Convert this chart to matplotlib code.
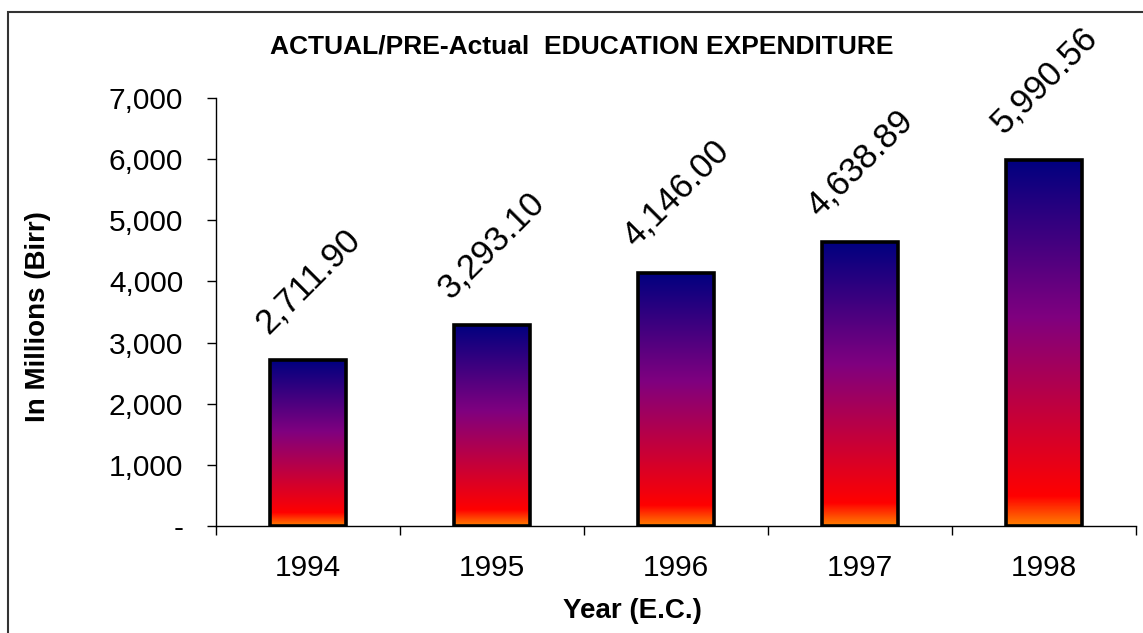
import numpy as np
import matplotlib
matplotlib.use("Agg")
import matplotlib.pyplot as plt
from matplotlib.colors import LinearSegmentedColormap
from matplotlib.patches import Rectangle
from matplotlib.ticker import FuncFormatter, FixedLocator

years = ["1994", "1995", "1996", "1997", "1998"]
values = [2711.90, 3293.10, 4146.00, 4638.89, 5990.56]
value_labels = ["2,711.90", "3,293.10", "4,146.00", "4,638.89", "5,990.56"]
yticks = [0, 1000, 2000, 3000, 4000, 5000, 6000, 7000]
title = "ACTUAL/PRE-Actual  EDUCATION EXPENDITURE"
ylabel = "In Millions (Birr)"
xlabel = "Year (E.C.)"

plt.rcParams['font.family'] = ['Liberation Sans', 'DejaVu Sans']

fig = plt.figure(figsize=(11.43, 6.33), dpi=100)
ax = fig.add_axes([216/1143, 1-526/633, (1136-216)/1143, (526-98)/633])

# colormap: bottom orange -> red -> purple -> navy top
cmap = LinearSegmentedColormap.from_list(
    "grad",
    [(0.0, (1.0, 0.5, 0.0)),
     (0.08, (1.0, 0.0, 0.0)),
     (0.57, (0.5, 0.0, 0.5)),
     (1.0, (0.0, 0.0, 0.5))])

grad = np.linspace(0, 1, 256).reshape(-1, 1)
width = 0.41
x = np.arange(len(years))
for xi, v in zip(x, values):
    ax.imshow(grad, extent=[xi - width/2, xi + width/2, 0, v], origin='lower',
              aspect='auto', cmap=cmap, zorder=2)
bars = ax.bar(x, values, width=width, facecolor='none', edgecolor='black',
              linewidth=2.6, zorder=3)

for xi, v, lab in zip(x, values, value_labels):
    ax.annotate(lab, xy=(xi, v), xytext=(0, 57), textcoords='offset points',
                ha='center', va='center', rotation=45, rotation_mode='anchor',
                fontsize=25, color='black')

ax.set_xlim(-0.5, len(years) - 0.5)
ax.set_ylim(0, 7000)

ax.spines['top'].set_visible(False)
ax.spines['right'].set_visible(False)
ax.spines['left'].set_linewidth(1.0)
ax.spines['bottom'].set_linewidth(1.0)

ax.yaxis.set_major_locator(FixedLocator(yticks))
ax.yaxis.set_major_formatter(FuncFormatter(lambda v, p: "-" if v == 0 else f"{v:,.0f}"))
ax.tick_params(axis='y', direction='out', length=6.5, width=1.0, pad=17, labelsize=21.5)

ax.set_xticks(np.arange(len(years) + 1) - 0.5)
ax.set_xticklabels([])
ax.set_xticks(x, minor=True)
ax.set_xticklabels(years, minor=True)
ax.tick_params(axis='x', which='major', direction='out', length=6.5, width=1.0)
ax.tick_params(axis='x', which='minor', length=0, pad=20, labelsize=21.5)

fig.text(582/1143, 1-47/633, title, ha='center', va='center',
         fontsize=19, fontweight='bold')
fig.text(632/1143, 1-611/633, xlabel, ha='center', va='center',
         fontsize=20, fontweight='bold')
fig.text(38/1143, 1-317/633, ylabel, ha='center', va='center',
         fontsize=20, fontweight='bold', rotation=90)

fig.patches.append(Rectangle((8/1143, -0.2), 2.0, 1.2 - 12/633,
                             transform=fig.transFigure, fill=False,
                             edgecolor='#333333', linewidth=1.5))

fig.savefig("out.png", dpi=100)
